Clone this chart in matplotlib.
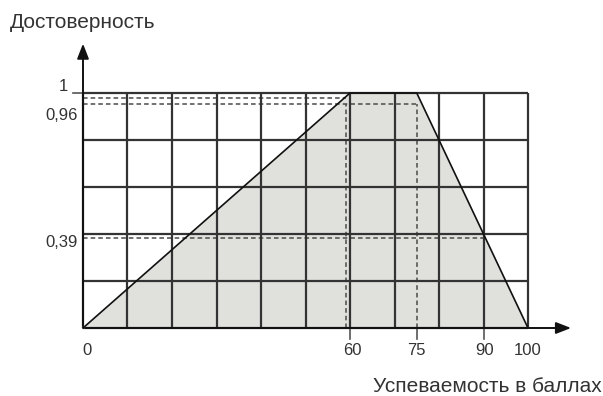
import matplotlib
matplotlib.use("Agg")
import matplotlib.pyplot as plt
import numpy as np

# Data
x_points = [0, 60, 75, 100]
y_points = [0, 1, 1, 0]
x_ticks = [0, 60, 75, 90, 100]
x_tick_labels = ["0", "60", "75", "90", "100"]
y_ticks = [1, 0.96, 0.39]
y_tick_labels = ["1", "0,96", "0,39"]
grid_x = list(range(0, 101, 10))
grid_y = [0, 0.2, 0.4, 0.6, 0.8, 1.0]
x_label = "Успеваемость в баллах"
y_label = "Достоверность"

plt.rcParams['font.family'] = ['Liberation Sans', 'DejaVu Sans']

fig = plt.figure(figsize=(6.03, 3.96), dpi=100)
ax = fig.add_axes([0, 0, 1, 1])
# pixel mapping: x=0 -> 83px, x=100 -> 528px ; y=0 -> 328px from top, y=1 -> 93px
sx = 4.45
sy = 235.0
ax.set_xlim(-83 / sx, (603 - 83) / sx)
ax.set_ylim(-68 / sy, 328 / sy)
ax.axis('off')

dark = '#333333'

# fill
ax.fill(x_points, y_points, color='#e0e0dc', zorder=1, lw=0)

# grid
for gx in grid_x:
    ax.plot([gx, gx], [0, 1], color=dark, lw=1.6, zorder=3, solid_capstyle='butt')
for gy in grid_y:
    ax.plot([0, 100], [gy, gy], color=dark, lw=1.6, zorder=3, solid_capstyle='butt')

# dashed helper lines
dash_kw = dict(color='#4a4a4a', lw=1.1, ls=(0, (3, 2)), zorder=2)
ax.plot([0, 59], [0.977, 0.977], **dash_kw)
ax.plot([0, 75], [0.955, 0.955], **dash_kw)
ax.plot([59, 59], [0, 0.955], **dash_kw)
ax.plot([75, 75], [0, 0.955], **dash_kw)
ax.plot([0, 90], [0.383, 0.383], **dash_kw)

# trapezoid outline
ax.plot(x_points, y_points, color='#111111', lw=1.2, zorder=4)

# axes with arrows
arrow_style = dict(arrowstyle='-|>,head_length=0.9,head_width=0.35', color='#111111', lw=1.4)
ax.annotate('', xy=(0, 1.222), xytext=(0, 0), arrowprops=arrow_style, zorder=5)
ax.annotate('', xy=(110.3, 0), xytext=(0, 0), arrowprops=arrow_style, zorder=5)

# tick marks below x axis
for tx in [60, 75, 90]:
    ax.plot([tx, tx], [0, -0.045], color='#555555', lw=1.2, zorder=3)
# tick at y=1
ax.plot([-2.2, 0], [1, 1], color='#555555', lw=1.2, zorder=3)

# tick labels
fs = 12
x_offsets = {0: 0.9, 60: 0.6, 75: 0, 90: 0.2, 100: 0}
for tx, tl in zip(x_ticks, x_tick_labels):
    ax.text(tx + x_offsets[tx], -0.094, tl, ha='center', va='center', fontsize=fs, color=dark)
ax.text(-4.3, 1.026, y_tick_labels[0], ha='center', va='center', fontsize=fs, color=dark)
ax.text(-1.1, 0.906, y_tick_labels[1], ha='right', va='center', fontsize=fs, color=dark)
ax.text(-1.1, 0.362, y_tick_labels[2], ha='right', va='center', fontsize=fs, color=dark)

# axis labels
ax.text(-16.4, 1.302, y_label, ha='left', va='center', fontsize=15, color=dark)
ax.text(116.6, -0.251, x_label, ha='right', va='center', fontsize=15, color=dark)

fig.savefig('out.png', dpi=100)
